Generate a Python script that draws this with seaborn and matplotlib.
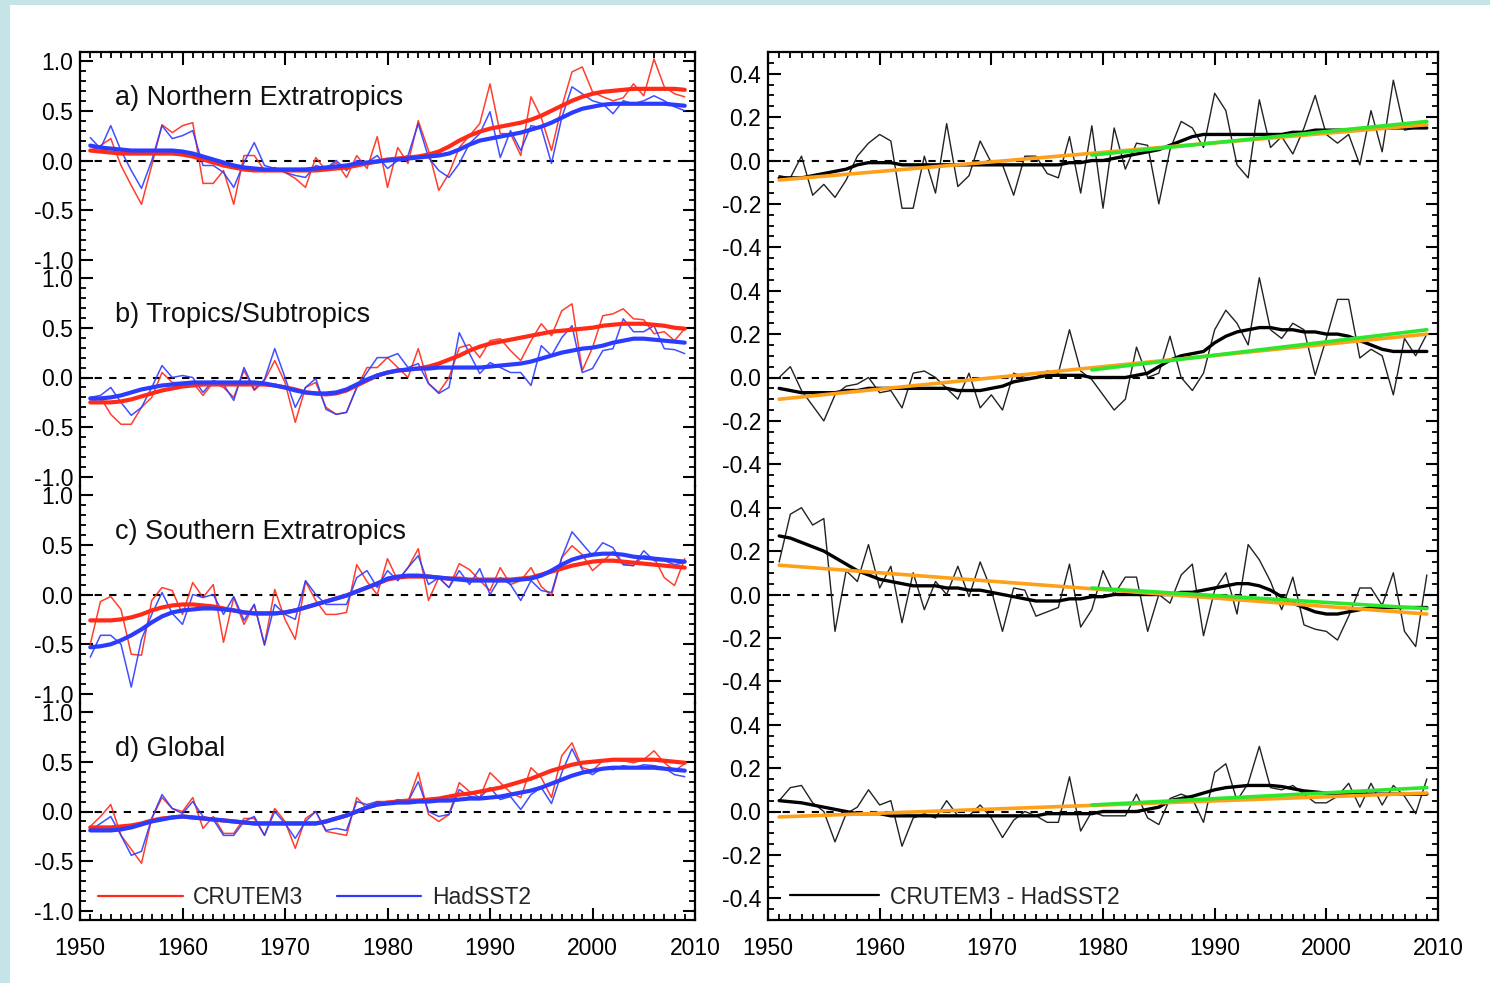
import numpy as np
import pandas as pd
import matplotlib
matplotlib.use("Agg")
import matplotlib.pyplot as plt
import seaborn as sns
from matplotlib.lines import Line2D
from matplotlib.patches import Rectangle
from matplotlib.ticker import MultipleLocator, FixedLocator, FixedFormatter

sns.set_style("ticks")
plt.rcParams['font.family'] = ['Liberation Sans', 'DejaVu Sans']

# ---------------- data ----------------
years = list(range(1951, 2010))

panel_labels = ["a) Northern Extratropics", "b) Tropics/Subtropics",
                "c) Southern Extratropics", "d) Global"]
series_names = ["CRUTEM3", "HadSST2"]
diff_name = "CRUTEM3 - HadSST2"

nh_crut = [0.10, 0.15, 0.22, -0.05, -0.25, -0.44, -0.05, 0.36, 0.28,
           0.35, 0.38, -0.23, -0.23, -0.10, -0.44, 0.05, 0.05, -0.10, -0.07,
           -0.12, -0.18, -0.27, 0.03, -0.10, -0.02, -0.17, 0.05, -0.08, 0.24,
           -0.27, 0.13, -0.03, 0.40, 0.10, -0.30, -0.13, 0.13, 0.25, 0.37,
           0.77, 0.27, 0.27, 0.05, 0.64, 0.43, 0.10, 0.54, 0.89, 0.94,
           0.69, 0.64, 0.60, 0.63, 0.77, 0.65, 1.02, 0.74, 0.67, 0.64]
nh_sst = [0.23, 0.12, 0.35, 0.10, -0.10, -0.28, 0.00, 0.35, 0.22,
          0.25, 0.30, -0.05, -0.05, -0.12, -0.27, -0.02, 0.18, -0.05, -0.08,
          -0.12, -0.15, -0.17, -0.05, -0.08, 0.00, -0.10, 0.00, -0.02, 0.05,
          -0.08, 0.00, 0.05, 0.37, 0.03, -0.10, -0.17, -0.03, 0.17, 0.27,
          0.49, 0.03, 0.30, 0.10, 0.35, 0.33, -0.03, 0.43, 0.74, 0.67,
          0.60, 0.57, 0.47, 0.60, 0.57, 0.60, 0.65, 0.60, 0.54, 0.50]
nh_crut_s = [0.10, 0.09, 0.08, 0.07, 0.07, 0.07, 0.07, 0.07, 0.07,
             0.06, 0.04, 0.01, -0.02, -0.05, -0.07, -0.09, -0.10, -0.10, -0.10,
             -0.10, -0.10, -0.10, -0.10, -0.09, -0.08, -0.07, -0.05, -0.03, -0.01,
             0.01, 0.02, 0.03, 0.04, 0.06, 0.09, 0.14, 0.20, 0.25, 0.29,
             0.32, 0.34, 0.36, 0.38, 0.41, 0.45, 0.50, 0.55, 0.60, 0.64,
             0.67, 0.69, 0.70, 0.71, 0.72, 0.72, 0.72, 0.72, 0.72, 0.71]
nh_sst_s = [0.15, 0.13, 0.12, 0.11, 0.10, 0.10, 0.10, 0.10, 0.10,
            0.09, 0.07, 0.04, 0.01, -0.02, -0.05, -0.07, -0.08, -0.09, -0.09,
            -0.09, -0.09, -0.09, -0.08, -0.07, -0.06, -0.05, -0.03, -0.02, -0.01,
            0.00, 0.01, 0.02, 0.03, 0.04, 0.05, 0.07, 0.11, 0.16, 0.20,
            0.22, 0.24, 0.26, 0.28, 0.31, 0.34, 0.38, 0.43, 0.48, 0.52,
            0.54, 0.56, 0.57, 0.57, 0.57, 0.57, 0.57, 0.57, 0.56, 0.55]

tr_crut = [-0.25, -0.20, -0.37, -0.47, -0.47, -0.30, -0.20, 0.05, -0.05,
           -0.05, -0.05, -0.18, -0.05, -0.10, -0.20, 0.07, -0.13, -0.03, 0.17,
           -0.05, -0.45, -0.10, -0.05, -0.30, -0.37, -0.35, -0.10, 0.10, 0.10,
           0.20, 0.10, 0.00, 0.29, -0.06, -0.15, 0.00, 0.30, 0.33, 0.20,
           0.37, 0.39, 0.27, 0.17, 0.37, 0.54, 0.42, 0.67, 0.74, 0.07,
           0.30, 0.62, 0.64, 0.69, 0.59, 0.58, 0.44, 0.46, 0.37, 0.49]
tr_sst = [-0.20, -0.18, -0.10, -0.25, -0.38, -0.30, -0.10, 0.12, 0.00,
          0.02, 0.00, -0.15, -0.03, -0.07, -0.23, 0.10, -0.12, -0.02, 0.29,
          0.00, -0.30, -0.10, -0.01, -0.32, -0.37, -0.35, -0.10, 0.05, 0.20,
          0.20, 0.24, 0.10, 0.14, -0.06, -0.16, -0.10, 0.45, 0.24, 0.04,
          0.15, 0.10, 0.05, 0.05, -0.08, 0.32, 0.22, 0.40, 0.52, 0.05,
          0.09, 0.27, 0.29, 0.59, 0.46, 0.46, 0.52, 0.29, 0.28, 0.24]
tr_crut_s = [-0.25, -0.25, -0.25, -0.24, -0.22, -0.19, -0.16, -0.13, -0.11,
             -0.09, -0.08, -0.07, -0.07, -0.07, -0.07, -0.07, -0.07, -0.07, -0.08,
             -0.10, -0.12, -0.15, -0.16, -0.17, -0.16, -0.13, -0.08, -0.03, 0.02,
             0.05, 0.07, 0.08, 0.09, 0.11, 0.14, 0.18, 0.22, 0.27, 0.31,
             0.34, 0.36, 0.38, 0.40, 0.42, 0.44, 0.46, 0.47, 0.48, 0.49,
             0.50, 0.52, 0.53, 0.54, 0.54, 0.54, 0.53, 0.52, 0.50, 0.49]
tr_sst_s = [-0.21, -0.21, -0.20, -0.18, -0.15, -0.12, -0.10, -0.08, -0.07,
            -0.06, -0.05, -0.05, -0.05, -0.05, -0.05, -0.05, -0.05, -0.06, -0.08,
            -0.10, -0.13, -0.15, -0.16, -0.16, -0.15, -0.12, -0.07, -0.02, 0.02,
            0.05, 0.07, 0.08, 0.09, 0.09, 0.10, 0.10, 0.10, 0.10, 0.10,
            0.11, 0.12, 0.13, 0.14, 0.16, 0.19, 0.22, 0.25, 0.27, 0.29,
            0.30, 0.32, 0.35, 0.37, 0.39, 0.39, 0.38, 0.37, 0.36, 0.35]

sh_crut = [-0.50, -0.07, -0.02, -0.15, -0.60, -0.61, -0.06, 0.07, 0.04,
           -0.20, 0.12, -0.03, 0.10, -0.48, -0.03, -0.30, -0.10, -0.50, 0.05,
           -0.25, -0.45, 0.13, -0.06, -0.20, -0.20, -0.18, 0.30, 0.13, 0.00,
           0.36, 0.14, 0.27, 0.46, -0.06, 0.17, 0.07, 0.31, 0.25, 0.14,
           0.04, 0.27, 0.10, 0.14, 0.27, 0.08, -0.01, 0.37, 0.49, 0.40,
           0.24, 0.33, 0.43, 0.30, 0.29, 0.39, 0.37, 0.17, 0.09, 0.36]
sh_sst = [-0.63, -0.41, -0.41, -0.50, -0.93, -0.45, -0.20, 0.02, -0.19,
          -0.30, 0.00, -0.03, 0.00, -0.20, -0.02, -0.26, -0.10, -0.51, -0.10,
          -0.20, -0.25, 0.14, 0.00, -0.10, -0.10, -0.10, 0.17, 0.24, 0.07,
          0.24, 0.14, 0.27, 0.39, 0.10, 0.17, 0.07, 0.24, 0.10, 0.26,
          0.00, 0.17, 0.10, -0.06, 0.14, 0.04, 0.02, 0.37, 0.63, 0.51,
          0.39, 0.52, 0.47, 0.30, 0.29, 0.44, 0.34, 0.34, 0.30, 0.32]
sh_crut_s = [-0.26, -0.26, -0.26, -0.25, -0.23, -0.20, -0.16, -0.13, -0.11,
             -0.10, -0.10, -0.11, -0.12, -0.14, -0.16, -0.18, -0.19, -0.19, -0.19,
             -0.18, -0.16, -0.13, -0.10, -0.07, -0.04, -0.01, 0.03, 0.07, 0.11,
             0.15, 0.17, 0.18, 0.18, 0.18, 0.17, 0.16, 0.16, 0.15, 0.15,
             0.15, 0.15, 0.15, 0.16, 0.17, 0.20, 0.23, 0.26, 0.29, 0.31,
             0.33, 0.34, 0.34, 0.33, 0.32, 0.31, 0.30, 0.29, 0.28, 0.27]
sh_sst_s = [-0.53, -0.52, -0.50, -0.46, -0.41, -0.35, -0.28, -0.22, -0.18,
            -0.16, -0.15, -0.14, -0.14, -0.15, -0.16, -0.18, -0.19, -0.19, -0.19,
            -0.18, -0.16, -0.13, -0.10, -0.07, -0.04, -0.01, 0.03, 0.07, 0.11,
            0.16, 0.18, 0.19, 0.19, 0.18, 0.17, 0.16, 0.15, 0.14, 0.14,
            0.14, 0.14, 0.14, 0.15, 0.16, 0.19, 0.24, 0.30, 0.35, 0.38,
            0.40, 0.41, 0.41, 0.40, 0.38, 0.37, 0.36, 0.35, 0.34, 0.33]

gl_crut = [-0.15, -0.05, 0.07, -0.24, -0.38, -0.52, -0.07, 0.14, 0.03,
           0.00, 0.14, -0.17, -0.05, -0.22, -0.22, -0.07, -0.07, -0.24, 0.03,
           -0.10, -0.37, -0.07, 0.00, -0.20, -0.22, -0.24, 0.14, 0.03, 0.10,
           0.10, 0.10, 0.10, 0.39, -0.03, -0.10, -0.03, 0.29, 0.20, 0.14,
           0.39, 0.29, 0.19, 0.14, 0.44, 0.34, 0.14, 0.56, 0.69, 0.44,
           0.41, 0.51, 0.52, 0.51, 0.49, 0.52, 0.61, 0.49, 0.41, 0.48]
gl_sst = [-0.19, -0.12, -0.05, -0.24, -0.44, -0.40, -0.07, 0.17, 0.03,
          -0.02, 0.10, -0.05, -0.08, -0.24, -0.24, -0.10, -0.05, -0.24, 0.00,
          -0.12, -0.27, -0.10, 0.00, -0.19, -0.17, -0.19, 0.10, 0.07, 0.10,
          0.08, 0.12, 0.10, 0.30, 0.00, -0.05, -0.03, 0.22, 0.15, 0.14,
          0.24, 0.12, 0.15, 0.02, 0.17, 0.24, 0.08, 0.39, 0.63, 0.42,
          0.37, 0.44, 0.42, 0.46, 0.44, 0.47, 0.46, 0.44, 0.37, 0.35]
gl_crut_s = [-0.16, -0.16, -0.16, -0.15, -0.14, -0.12, -0.09, -0.07, -0.06,
             -0.05, -0.06, -0.07, -0.08, -0.09, -0.10, -0.11, -0.12, -0.12, -0.12,
             -0.12, -0.12, -0.12, -0.12, -0.10, -0.07, -0.04, 0.00, 0.04, 0.07,
             0.09, 0.10, 0.11, 0.11, 0.12, 0.13, 0.15, 0.17, 0.18, 0.20,
             0.22, 0.24, 0.27, 0.30, 0.33, 0.37, 0.41, 0.44, 0.47, 0.49,
             0.50, 0.51, 0.52, 0.52, 0.52, 0.52, 0.52, 0.51, 0.50, 0.49]
gl_sst_s = [-0.19, -0.19, -0.19, -0.18, -0.16, -0.13, -0.10, -0.08, -0.06,
            -0.05, -0.06, -0.07, -0.08, -0.09, -0.10, -0.11, -0.12, -0.12, -0.12,
            -0.12, -0.12, -0.12, -0.12, -0.10, -0.07, -0.04, 0.00, 0.04, 0.07,
            0.08, 0.09, 0.09, 0.10, 0.10, 0.11, 0.11, 0.12, 0.13, 0.13,
            0.14, 0.15, 0.17, 0.19, 0.21, 0.24, 0.28, 0.32, 0.36, 0.39,
            0.41, 0.43, 0.44, 0.44, 0.44, 0.44, 0.44, 0.43, 0.42, 0.41]

# CRUTEM3 - HadSST2 differences (right column)
nh_diff = [-0.07, -0.08, 0.02, -0.16, -0.11, -0.17, -0.09, 0.02, 0.08,
           0.12, 0.09, -0.22, -0.22, 0.02, -0.15, 0.17, -0.12, -0.07, 0.09,
           -0.01, -0.02, -0.16, 0.02, 0.02, -0.06, -0.08, 0.11, -0.15, 0.16,
           -0.22, 0.15, -0.04, 0.08, 0.07, -0.20, 0.05, 0.18, 0.15, 0.06,
           0.31, 0.23, -0.02, -0.08, 0.28, 0.06, 0.11, 0.03, 0.15, 0.30,
           0.12, 0.08, 0.12, -0.02, 0.23, 0.04, 0.37, 0.14, 0.15, 0.15]
tr_diff = [0.00, 0.05, -0.06, -0.13, -0.20, -0.08, -0.04, -0.03, 0.00,
           -0.07, -0.06, -0.14, 0.02, 0.03, 0.00, -0.05, -0.10, 0.02, -0.14,
           -0.08, -0.15, 0.02, 0.00, 0.00, 0.03, 0.02, 0.22, 0.03, -0.01,
           -0.08, -0.15, -0.10, 0.14, 0.00, 0.02, 0.19, 0.00, -0.06, 0.02,
           0.22, 0.31, 0.25, 0.15, 0.46, 0.22, 0.18, 0.25, 0.22, 0.01,
           0.18, 0.36, 0.36, 0.09, 0.13, 0.10, -0.08, 0.18, 0.10, 0.20]
sh_diff = [0.15, 0.37, 0.40, 0.32, 0.35, -0.17, 0.11, 0.06, 0.23,
           0.03, 0.13, -0.13, 0.10, -0.07, 0.06, 0.00, 0.13, -0.01, 0.15,
           0.02, -0.17, 0.03, 0.02, -0.10, -0.08, -0.06, 0.14, -0.15, -0.07,
           0.11, 0.00, 0.08, 0.08, -0.17, 0.00, -0.04, 0.09, 0.14, -0.19,
           0.02, 0.10, -0.09, 0.23, 0.16, 0.06, -0.07, 0.08, -0.14, -0.16,
           -0.17, -0.21, -0.10, 0.03, 0.03, -0.05, 0.10, -0.17, -0.24, 0.09]
gl_diff = [0.05, 0.11, 0.12, 0.04, 0.00, -0.14, -0.01, 0.02, 0.10,
           0.03, 0.05, -0.16, -0.03, -0.01, -0.03, 0.05, -0.02, -0.02, 0.03,
           -0.03, -0.12, -0.04, 0.00, -0.02, -0.05, -0.05, 0.16, -0.09, 0.00,
           -0.02, -0.02, -0.02, 0.08, -0.03, -0.06, 0.06, 0.08, 0.06, -0.05,
           0.18, 0.22, 0.05, 0.13, 0.30, 0.11, 0.10, 0.12, 0.08, 0.04,
           0.04, 0.07, 0.13, 0.02, 0.13, 0.03, 0.12, 0.07, -0.01, 0.15]

nh_diff_s = [-0.08, -0.08, -0.08, -0.07, -0.06, -0.05, -0.04, -0.02, -0.01,
             -0.01, -0.01, -0.02, -0.02, -0.02, -0.02, -0.02, -0.02, -0.02, -0.02,
             -0.02, -0.02, -0.02, -0.02, -0.02, -0.02, -0.02, -0.01, -0.01, 0.00,
             0.00, 0.01, 0.02, 0.03, 0.04, 0.05, 0.07, 0.09, 0.11, 0.12,
             0.12, 0.12, 0.12, 0.12, 0.12, 0.12, 0.12, 0.13, 0.13, 0.14,
             0.14, 0.14, 0.14, 0.14, 0.15, 0.15, 0.15, 0.15, 0.15, 0.15]
tr_diff_s = [-0.05, -0.06, -0.07, -0.07, -0.07, -0.07, -0.06, -0.06, -0.05,
             -0.05, -0.05, -0.05, -0.05, -0.05, -0.05, -0.05, -0.06, -0.06, -0.06,
             -0.05, -0.04, -0.02, -0.01, 0.00, 0.01, 0.01, 0.01, 0.01, 0.00,
             0.00, 0.00, 0.00, 0.01, 0.02, 0.05, 0.08, 0.10, 0.11, 0.12,
             0.16, 0.19, 0.21, 0.22, 0.23, 0.23, 0.22, 0.22, 0.21, 0.21,
             0.20, 0.20, 0.19, 0.17, 0.15, 0.13, 0.12, 0.12, 0.12, 0.12]
sh_diff_s = [0.27, 0.26, 0.24, 0.22, 0.20, 0.17, 0.14, 0.11, 0.09,
             0.07, 0.06, 0.05, 0.04, 0.04, 0.04, 0.03, 0.03, 0.02, 0.02,
             0.01, 0.00, -0.01, -0.02, -0.03, -0.03, -0.03, -0.02, -0.02, -0.01,
             -0.01, 0.00, 0.00, 0.00, 0.00, 0.00, 0.00, 0.01, 0.01, 0.02,
             0.03, 0.04, 0.05, 0.05, 0.04, 0.02, -0.01, -0.04, -0.06, -0.08,
             -0.09, -0.09, -0.08, -0.07, -0.06, -0.06, -0.06, -0.06, -0.06, -0.06]
gl_diff_s = [0.05, 0.045, 0.04, 0.03, 0.02, 0.01, 0.00, -0.01, -0.01,
             -0.01, -0.02, -0.02, -0.02, -0.02, -0.02, -0.02, -0.02, -0.02, -0.02,
             -0.02, -0.02, -0.02, -0.02, -0.02, -0.01, -0.01, -0.01, -0.01, -0.01,
             0.00, 0.00, 0.00, 0.00, 0.01, 0.02, 0.05, 0.06, 0.07, 0.085,
             0.10, 0.11, 0.115, 0.12, 0.12, 0.12, 0.115, 0.105, 0.095, 0.09,
             0.085, 0.08, 0.08, 0.08, 0.08, 0.08, 0.08, 0.08, 0.08, 0.08]

# linear trends: full period (orange) and 1979 onward (green), endpoint values
trend_full_years = [1951, 2009]
trend_recent_years = [1979, 2009]
nh_trend_full = [-0.09, 0.165]
nh_trend_recent = [0.025, 0.18]
tr_trend_full = [-0.10, 0.20]
tr_trend_recent = [0.035, 0.22]
sh_trend_full = [0.135, -0.09]
sh_trend_recent = [0.03, -0.065]
gl_trend_full = [-0.025, 0.085]
gl_trend_recent = [0.03, 0.11]

left_ticks = [-1.0, -0.5, 0.0, 0.5, 1.0]
left_ticklabels = ["-1.0", "-0.5", "0.0", "0.5", "1.0"]
right_ticks = [-0.4, -0.2, 0.0, 0.2, 0.4]
right_ticklabels = ["-0.4", "-0.2", "0.0", "0.2", "0.4"]
year_ticks = [1950, 1960, 1970, 1980, 1990, 2000, 2010]

left_sets = [(nh_crut, nh_sst, nh_crut_s, nh_sst_s),
             (tr_crut, tr_sst, tr_crut_s, tr_sst_s),
             (sh_crut, sh_sst, sh_crut_s, sh_sst_s),
             (gl_crut, gl_sst, gl_crut_s, gl_sst_s)]
right_sets = [(nh_diff, nh_diff_s, nh_trend_full, nh_trend_recent),
              (tr_diff, tr_diff_s, tr_trend_full, tr_trend_recent),
              (sh_diff, sh_diff_s, sh_trend_full, sh_trend_recent),
              (gl_diff, gl_diff_s, gl_trend_full, gl_trend_recent)]

# ---------------- style ----------------
RED = "#ff2a17"
BLUE = "#2b3cff"
ORANGE = "#ffa01a"
GREEN = "#2ee62e"
BG = "#c4e4e8"

W, H = 1490, 983
fig = plt.figure(figsize=(W / 100, H / 100), dpi=100, facecolor="white")
fig.patches.append(Rectangle((0, 0), 10 / W, 1, transform=fig.transFigure,
                             facecolor=BG, edgecolor="none", zorder=-5))
fig.patches.append(Rectangle((0, 1 - 5 / H), 1, 5 / H, transform=fig.transFigure,
                             facecolor=BG, edgecolor="none", zorder=-5))

top_px = 52
ph = 217
left_x, left_w = 80, 615
right_x, right_w = 768, 670


def style_axis(ax, k, ylim, ticks, ticklabels, minor):
    ax.set_xlim(1950, 2010)
    ax.set_ylim(-ylim, ylim)
    ax.set_facecolor("none")
    for s in ax.spines.values():
        s.set_linewidth(1.6)
        s.set_color("black")
    if k > 0:
        ax.spines["top"].set_visible(False)
    if k < 3:
        ax.spines["bottom"].set_visible(False)
    ax.xaxis.set_major_locator(FixedLocator(year_ticks))
    ax.xaxis.set_minor_locator(MultipleLocator(1))
    ax.yaxis.set_major_locator(FixedLocator(ticks))
    ax.yaxis.set_major_formatter(FixedFormatter(ticklabels))
    ax.yaxis.set_minor_locator(MultipleLocator(minor))
    ax.tick_params(axis="both", which="both", direction="in",
                   top=(k == 0), bottom=(k == 3), left=True, right=True,
                   labelbottom=(k == 3), labeltop=False,
                   labelleft=True, labelright=False, colors="black")
    ax.tick_params(axis="both", which="major", length=9, width=1.5)
    ax.tick_params(axis="both", which="minor", length=4.5, width=1.3)
    ax.tick_params(axis="y", which="major", labelsize=16.5, pad=5)
    ax.tick_params(axis="x", which="major", labelsize=16.5, pad=12)
    ax.set_xlabel("")
    ax.set_ylabel("")
    ax.axhline(0, color="black", lw=1.5, ls=(0, (3.5, 3.5)), zorder=1)


for k in range(4):
    bottom = 1 - (top_px + (k + 1) * ph) / H
    height = ph / H
    # left column
    axl = fig.add_axes([left_x / W, bottom, left_w / W, height])
    crut, sst, crut_s, sst_s = left_sets[k]
    df = pd.DataFrame({"year": years, "crut": crut, "sst": sst,
                       "crut_s": crut_s, "sst_s": sst_s})
    sns.lineplot(data=df, x="year", y="crut", ax=axl, color=RED, lw=1.1, alpha=0.9, zorder=3)
    sns.lineplot(data=df, x="year", y="sst", ax=axl, color=BLUE, lw=1.1, alpha=0.9, zorder=3)
    sns.lineplot(data=df, x="year", y="crut_s", ax=axl, color=RED, lw=3.0, zorder=4)
    sns.lineplot(data=df, x="year", y="sst_s", ax=axl, color=BLUE, lw=3.0, zorder=5)
    style_axis(axl, k, 1.09, left_ticks, left_ticklabels, 0.1)
    axl.text(1953.4, 0.63, panel_labels[k], fontsize=19.5, ha="left", va="center",
             color="#111111", zorder=6)

    # right column
    axr = fig.add_axes([right_x / W, bottom, right_w / W, height])
    diff, diff_s, tfull, trecent = right_sets[k]
    dfr = pd.DataFrame({"year": years, "diff": diff, "diff_s": diff_s})
    sns.lineplot(data=dfr, x="year", y="diff", ax=axr, color="#222222", lw=1.0, zorder=3)
    sns.lineplot(data=dfr, x="year", y="diff_s", ax=axr, color="black", lw=2.4, zorder=4)
    sns.lineplot(x=trend_full_years, y=tfull, ax=axr, color=ORANGE, lw=2.6, zorder=5)
    sns.lineplot(x=trend_recent_years, y=trecent, ax=axr, color=GREEN, lw=2.6, zorder=6)
    style_axis(axr, k, 0.5, right_ticks, right_ticklabels, 0.05)

    if k == 3:
        hl = [Line2D([], [], color=RED, lw=1.6), Line2D([], [], color=BLUE, lw=1.6)]
        axl.legend(hl, series_names, loc="center left",
                   bbox_to_anchor=(18 / left_w, 22 / ph), ncol=2,
                   frameon=False, fontsize=16.5, handlelength=3.7,
                   handletextpad=0.45, columnspacing=1.45,
                   borderpad=0, borderaxespad=0)
        hr = [Line2D([], [], color="black", lw=1.6)]
        axr.legend(hr, [diff_name], loc="center left",
                   bbox_to_anchor=(22 / right_w, 23 / ph), frameon=False,
                   fontsize=16.5, handlelength=3.9, handletextpad=0.45,
                   borderpad=0, borderaxespad=0)

fig.savefig("out.png", dpi=100, facecolor="white")
